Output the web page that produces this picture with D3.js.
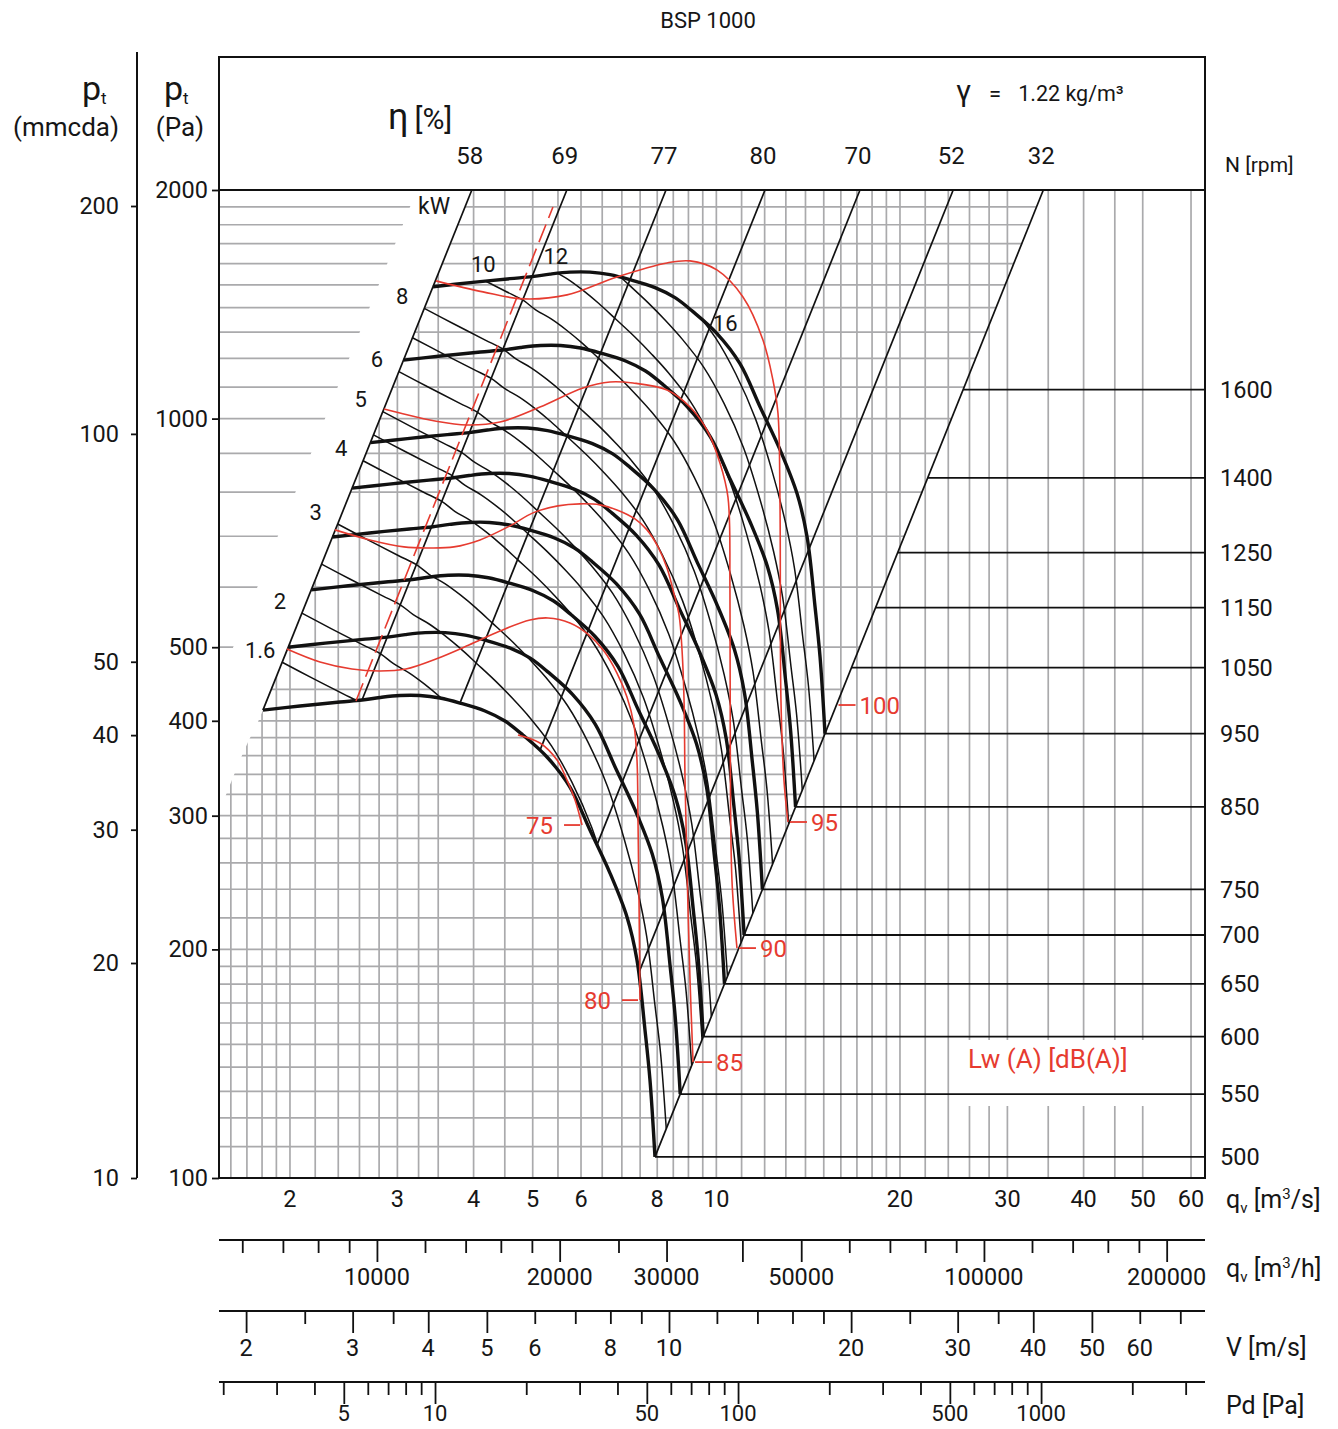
<!DOCTYPE html>
<html><head><meta charset="utf-8">
<script src="https://cdn.jsdelivr.net/npm/d3@7/dist/d3.min.js"></script>
<style>
html,body{margin:0;padding:0;background:#fff;}
svg text{font-family:Roboto,"Liberation Sans",Arial,sans-serif;fill:#161616;}
</style></head>
<body>
<svg id="chart" width="1338" height="1429" xmlns="http://www.w3.org/2000/svg"></svg>
<script>
// ---------------- DATA ----------------
const title = "BSP 1000";
const curveRpms = [500, 550, 600, 650, 700, 750, 850, 950];
const lineRpms = [500, 550, 600, 650, 700, 750, 850, 950, 1050, 1150, 1250, 1400, 1600];
// 500 rpm fan curve: flow (m3/s), total pressure (Pa), shaft power (kW)
const baseQ = [1.806, 2.077, 2.415, 2.625, 2.809, 3.029, 3.267, 3.524, 3.799, 4.176, 4.503, 4.818, 5.277, 5.754, 6.206, 6.693, 7.137, 7.412, 7.639, 7.784, 7.932];
const baseP = [413.2, 418.3, 423.4, 426.0, 429.3, 431.9, 431.9, 428.6, 422.1, 412.0, 399.7, 383.1, 358.4, 327.2, 287.2, 252.1, 220.7, 193.6, 156.6, 134.6, 106.6];
const baseKW = [1.287, 1.406, 1.542, 1.621, 1.715, 1.804, 1.899, 1.993, 2.083, 2.192, 2.267, 2.310, 2.376, 2.445, 2.46, 2.56, 2.66, 2.69, 2.68, 2.66, 2.64];
// efficiency (system) lines: label, point on the 500 rpm curve
const effLabels = [58, 69, 77, 80, 70, 52, 32];
const effQ = [1.806, 2.625, 3.799, 5.14, 6.37, 7.47, 7.932];
const effP = [413.2, 426.0, 422.1, 366.0, 274.4, 186.7, 106.6];
// shaft power lines (kW)
const kwLevels = [1.6, 2, 2.5, 3, 4, 4.5, 5, 6, 7, 8, 10, 12, 14, 16];
const kwLabelled = [1.6, 2, 3, 4, 5, 6, 8, 10, 12, 16];
// sound power Lw(A) curves
const lwLevels = [75, 80, 85, 90, 95, 100];
const lw75Q = [4.729, 5.139, 5.481, 5.691, 5.866, 6.023];
const lw75P = [383.1, 373.9, 355.1, 334.2, 314.6, 291.6];
const lw80Q = [1.977, 2.240, 2.527, 2.809, 3.098, 3.470, 3.930, 4.419, 4.948, 5.297, 5.754, 6.159, 6.543, 6.872, 7.137, 7.328, 7.412, 7.440, 7.468, 7.497];
const lw80P = [497.2, 478.0, 468.0, 465.2, 468.0, 482.4, 503.3, 525.2, 543.0, 546.4, 538.2, 520.3, 494.2, 462.3, 429.9, 394.9, 355.1, 296.1, 232.3, 171.5];
const lw85Q = [2.370, 2.704, 3.075, 3.367, 3.714, 4.098, 4.589, 5.004, 5.499, 5.977, 6.445, 6.872, 7.356, 7.697, 8.024, 8.301, 8.491, 8.686, 8.785, 8.852, 8.885, 8.953, 9.054, 9.158];
const lw85P = [713.6, 692.2, 677.7, 675.6, 677.7, 692.2, 722.3, 751.4, 767.5, 772.2, 769.8, 758.2, 737.8, 713.6, 677.7, 635.6, 594.8, 551.4, 495.7, 426.0, 334.2, 254.4, 182.3, 142.1];
const lw90Q = [2.852, 3.029, 3.457, 3.901, 4.419, 5.139, 6.046, 6.693, 7.301, 8.301, 9.054, 9.652, 10.137, 10.448, 10.527, 10.540, 10.607, 10.810];
const lw90P = [1029.5, 1017.1, 992.7, 980.7, 989.7, 1035.8, 1097.3, 1117.4, 1114.0, 1090.7, 1035.8, 966.0, 874.2, 788.1, 594.8, 366.1, 246.8, 200.8];
const lw95Q = [3.470, 4.145, 4.818, 5.691, 6.872, 8.301, 9.054, 10.02, 11.057, 11.923, 12.381, 12.618, 12.714, 12.762, 12.907, 13.104];
const lw95P = [1518.2, 1468.4, 1437.6, 1455.1, 1536.7, 1603.3, 1613.1, 1569.6, 1446.0, 1269.4, 1124.2, 1017.1, 781.0, 426.0, 334.2, 294.3];
const lw100Q = [15.74];
const lw100P = [419.6];
// dashed red limit line
const stallQ = [2.566, 5.397];
const stallP = [424.8, 1899.4];
// grid values
const gridQ = [1.6,1.7,1.8,1.9,2,2.2,2.4,2.6,2.8,3,3.25,3.5,4,4.5,5,5.5,6,6.5,7,7.5,8,8.5,9,9.5,10,11,12,13,14,15,16,17,18,19,20,22,24,26,28,30,35,40,45,50,60];
const gridP = [110,120,130,140,150,160,170,180,190,200,220,240,260,280,300,320,340,360,380,400,440,500,600,700,800,900,1000,1100,1200,1300,1400,1500,1600,1700,1800,1900];
// axis ticks
const paTicks = [100, 200, 300, 400, 500, 1000, 2000];
const mmTicks = [10, 20, 30, 40, 50, 100, 200];
const qsLabels = [2, 3, 4, 5, 6, 8, 10, 20, 30, 40, 50, 60];
const qhMinor = [6000,7000,8000,9000,12000,14000,16000,18000,25000,60000,70000,80000,90000,120000,140000,160000,180000];
const qhMajor = [10000,20000,30000,40000,50000,100000,200000];
const qhLabels = [10000,20000,30000,50000,100000,200000];
const vMinor = [2.5,3.5,6,7,8,9,12,14,16,18,25,35,60,70];
const vMajor = [2,3,4,5,10,20,30,40,50];
const vLabels = [2,3,4,5,6,8,10,20,30,40,50,60];
const pdMinor = [2,3,4,6,7,8,9,20,30,40,60,70,80,90,200,300,400,600,700,800,900,2000,3000];
const pdMajor = [5,10,50,100,500,1000];
const lwSeries = [[lw75Q,lw75P],[lw80Q,lw80P],[lw85Q,lw85P],[lw90Q,lw90P],[lw95Q,lw95P],[lw100Q,lw100P]];

// ---------------- SCALES ----------------
const svg = d3.select("#chart");
const X0 = 219, X1 = 1205, Y0 = 190, Y1 = 1178, YT = 57;
const x = d3.scaleLog().domain([1.53, 63.25]).range([X0, X1]);
const y = d3.scaleLog().domain([100, 2000]).range([Y1, Y0]);
const yMm = d3.scaleLog().domain([10, 20, 200]).range([1178, 963, 206]);
const xQh = d3.scaleLog().domain([5493, 231300]).range([X0, X1]);
const xV = d3.scaleLog().domain([1.804, 76.9]).range([X0, X1]);
const xPd = d3.scaleLog().domain([1.937, 3475]).range([X0, X1]);

const RED = "#e63b30", GRID = "#aaaaac", BLK = "#111";
const FS = 23.5;
const line = d3.line().curve(d3.curveCatmullRom.alpha(0.5));
const lineStraight = d3.line();
const kMax = 950 / 500;
const fanPts = k => baseQ.map((q, i) => [x(q * k), y(baseP[i] * k * k)]);
const p500 = fanPts(1), p950 = fanPts(kMax);
const leftTop = [x(effQ[0] * Math.sqrt(2000 / effP[0])), Y0];
const rightTop = [x(effQ[6] * Math.sqrt(2000 / effP[6])), Y0];
const leftStart = p500[0], rightEnd = p500[p500.length - 1];
const stairOff = [[-5,12],[-14,30],[-23,50],[-31,70],[-37,85],[-44,102]];
const stair = stairOff.map(o => [leftStart[0] + o[0], leftStart[1] + o[1]]);

// ---------------- CLIP PATHS ----------------
const defs = svg.append("defs");
const polyStr = pts => "M" + pts.map(p => p.join(",")).join("L") + "Z";
const vPoly = [leftTop, [X1, Y0], [X1, Y1], [X0, Y1], ...stair.slice().reverse(), leftStart];
const hPoly = [leftTop, rightTop, rightEnd, [rightEnd[0], Y1], [X0, Y1], ...stair.slice().reverse(), leftStart];
const gap = 55;
const slope = (leftTop[1] - leftStart[1]) / (leftTop[0] - leftStart[0]);
const yTri = leftStart[1] + (X0 - (leftStart[0] - gap)) * slope;
const triPoly = [[X0, Y0], [leftTop[0] - gap, Y0], [X0, yTri]];
defs.append("clipPath").attr("id", "clipV").append("path").attr("d", polyStr(vPoly));
const ch = defs.append("clipPath").attr("id", "clipH");
ch.append("path").attr("d", polyStr(hPoly));
ch.append("path").attr("d", polyStr(triPoly));
const bandD = line(p950) + "L" + rightEnd.join(",") + line(p500.slice().reverse()).replace(/^M/, "L") + "Z";
defs.append("clipPath").attr("id", "clipBand").append("path").attr("d", bandD);

// ---------------- GRID ----------------
const g = svg.append("g");
g.append("g").attr("clip-path", "url(#clipV)").selectAll("line").data(gridQ).join("line")
  .attr("x1", d => x(d)).attr("x2", d => x(d)).attr("y1", Y0).attr("y2", Y1)
  .attr("stroke", GRID).attr("stroke-width", 1.7);
g.append("g").attr("clip-path", "url(#clipH)").selectAll("line").data(gridP).join("line")
  .attr("x1", X0).attr("x2", X1).attr("y1", d => y(d)).attr("y2", d => y(d))
  .attr("stroke", GRID).attr("stroke-width", 1.7);
// white box behind Lw label
g.append("rect").attr("x", 956).attr("y", 1040).attr("width", 192).attr("height", 66).attr("fill", "#fff");

// ---------------- EFFICIENCY LINES ----------------
const gE = svg.append("g");
effLabels.forEach((lab, i) => {
  const qTop = effQ[i] * Math.sqrt(2000 / effP[i]);
  gE.append("path").attr("d", lineStraight([[x(effQ[i]), y(effP[i])], [x(qTop), Y0]]))
    .attr("stroke", BLK).attr("stroke-width", 1.7).attr("fill", "none");
  svg.append("text").attr("x", x(qTop) - 2).attr("y", 164).attr("text-anchor", "middle")
    .attr("font-size", 24).text(lab);
});

// ---------------- POWER LINES ----------------
const gK = svg.append("g").attr("clip-path", "url(#clipBand)");
kwLevels.forEach(P => {
  const pts = baseQ.map((q, i) => { const k = Math.cbrt(P / baseKW[i]); return [x(q * k), y(baseP[i] * k * k)]; });
  gK.append("path").attr("d", line(pts)).attr("fill", "none").attr("stroke", BLK).attr("stroke-width", 1.5);
});
kwLabelled.forEach(P => {
  const k0 = Math.cbrt(P / baseKW[0]);
  let px, py;
  if (k0 <= kMax) { px = x(baseQ[0] * k0) - 22; py = y(baseP[0] * k0 * k0) - 12; }
  else {
    const target = P / Math.pow(kMax, 3);
    const i = baseKW.findIndex(v => v >= target);
    const t = (target - baseKW[i - 1]) / (baseKW[i] - baseKW[i - 1]);
    const q = Math.exp(Math.log(baseQ[i - 1]) * (1 - t) + Math.log(baseQ[i]) * t) * kMax;
    const p = Math.exp(Math.log(baseP[i - 1]) * (1 - t) + Math.log(baseP[i]) * t) * kMax * kMax;
    if (P >= 15) { px = x(q) + 24; py = y(p) + 4; } else { px = x(q) - 2; py = y(p) - 17; }
  }
  svg.append("text").attr("x", px).attr("y", py).attr("dy", "0.35em").attr("text-anchor", "middle")
    .attr("font-size", 22).text(P);
});
svg.append("text").attr("x", 418).attr("y", 214).attr("font-size", 23).text("kW");

// ---------------- FAN CURVES ----------------
const gF = svg.append("g");
curveRpms.forEach(N => {
  gF.append("path").attr("d", line(fanPts(N / 500))).attr("fill", "none")
    .attr("stroke", BLK).attr("stroke-width", 3.4).attr("stroke-linejoin", "round");
});
// rpm lines
const pEnd = baseP[baseP.length - 1], qEnd = baseQ[baseQ.length - 1];
lineRpms.forEach(N => {
  const k = N / 500;
  const yy = y(pEnd * k * k);
  svg.append("line").attr("x1", x(qEnd * k)).attr("x2", X1).attr("y1", yy).attr("y2", yy)
    .attr("stroke", BLK).attr("stroke-width", 1.8);
  svg.append("text").attr("x", 1220).attr("y", yy).attr("dy", "0.35em").attr("font-size", FS).text(N);
});

// ---------------- NOISE CURVES ----------------
const gR = svg.append("g");
lwSeries.forEach((s, j) => {
  const pts = s[0].map((q, i) => [x(q), y(s[1][i])]);
  if (pts.length > 1) gR.append("path").attr("d", line(pts)).attr("fill", "none").attr("stroke", RED).attr("stroke-width", 1.6);
  const a = pts[pts.length - 1];
  const left = j < 2;
  gR.append("line").attr("x1", left ? a[0] - 2 : a[0] + 2).attr("x2", left ? a[0] - 18 : a[0] + 19)
    .attr("y1", a[1]).attr("y2", a[1]).attr("stroke", RED).attr("stroke-width", 1.8);
  gR.append("text").attr("x", left ? a[0] - 29 : a[0] + 23).attr("y", a[1]).attr("dy", "0.36em")
    .attr("text-anchor", left ? "end" : "start").attr("font-size", 24).style("fill", RED).text(lwLevels[j]);
});
gR.append("path").attr("d", lineStraight(stallQ.map((q, i) => [x(q), y(stallP[i])])))
  .attr("stroke", RED).attr("stroke-width", 1.6).attr("stroke-dasharray", "19,7").attr("fill", "none");
svg.append("text").attr("x", 968).attr("y", 1068).attr("font-size", 26).style("fill", RED).text("Lw (A) [dB(A)]");

// ---------------- FRAME & AXES ----------------
const fr = svg.append("g").attr("stroke", BLK).attr("fill", "none");
fr.append("rect").attr("x", X0).attr("y", YT).attr("width", X1 - X0).attr("height", Y1 - YT).attr("stroke-width", 2);
fr.append("line").attr("x1", X0).attr("x2", X1).attr("y1", Y0).attr("y2", Y0).attr("stroke-width", 2);
fr.append("line").attr("x1", 137).attr("x2", 137).attr("y1", 52).attr("y2", Y1).attr("stroke-width", 2);

const styleAxis = (sel, fs) => {
  sel.select(".domain").remove();
  sel.selectAll(".tick line").attr("stroke", BLK).attr("stroke-width", 1.8);
  sel.selectAll(".tick text").attr("font-size", fs).attr("fill", "#161616")
    .attr("font-family", "Roboto, 'Liberation Sans', Arial, sans-serif");
};
// Pa axis
svg.append("g").attr("transform", `translate(${X0},0)`)
  .call(d3.axisLeft(y).tickValues(paTicks).tickSize(7).tickPadding(4).tickFormat(d3.format("d")))
  .call(s => styleAxis(s, FS));
// mmcda axis
svg.append("g").attr("transform", "translate(137,0)")
  .call(d3.axisLeft(yMm).tickValues(mmTicks).tickSize(6).tickPadding(12).tickFormat(d3.format("d")))
  .call(s => styleAxis(s, FS));
// qv m3/s labels
svg.append("g").selectAll("text").data(qsLabels).join("text")
  .attr("x", d => x(d)).attr("y", 1207).attr("text-anchor", "middle").attr("font-size", FS).text(d => d);

function bottomAxis(scale, yLine, minor, major, labels, labelY, fs) {
  const gA = svg.append("g");
  gA.append("line").attr("x1", X0).attr("x2", X1).attr("y1", yLine).attr("y2", yLine).attr("stroke", BLK).attr("stroke-width", 2);
  gA.append("g").attr("transform", `translate(0,${yLine})`)
    .call(d3.axisBottom(scale).tickValues(minor).tickSize(13).tickSizeOuter(0).tickFormat(""))
    .call(s => styleAxis(s, fs));
  gA.append("g").attr("transform", `translate(0,${yLine})`)
    .call(d3.axisBottom(scale).tickValues(major).tickSize(22).tickSizeOuter(0).tickFormat(""))
    .call(s => styleAxis(s, fs));
  gA.append("g").selectAll("text").data(labels).join("text")
    .attr("x", d => scale(d)).attr("y", labelY).attr("text-anchor", "middle").attr("font-size", fs).text(d => d);
}
bottomAxis(xQh, 1240, qhMinor, qhMajor, qhLabels, 1285, FS);
bottomAxis(xV, 1311, vMinor, vMajor, vLabels, 1356, FS);
bottomAxis(xPd, 1382, pdMinor, pdMajor, pdMajor, 1421, 22);

// ---------------- TEXTS ----------------
svg.append("text").attr("x", 708).attr("y", 28).attr("text-anchor", "middle").attr("font-size", 22).text(title);
const pt = (xx) => {
  const t = svg.append("text").attr("x", xx).attr("y", 100).attr("font-size", 34);
  t.append("tspan").text("p");
  t.append("tspan").attr("font-size", 17).attr("dy", 4).text("t");
};
pt(82); pt(164);
svg.append("text").attr("x", 66).attr("y", 136).attr("text-anchor", "middle").attr("font-size", 26).text("(mmcda)");
svg.append("text").attr("x", 180).attr("y", 136).attr("text-anchor", "middle").attr("font-size", 26).text("(Pa)");
const eta = svg.append("text").attr("x", 388).attr("y", 129);
eta.append("tspan").attr("font-size", 36).text("η");
eta.append("tspan").attr("font-size", 30).attr("dx", 6).text("[%]");
const gam = svg.append("text").attr("x", 956).attr("y", 101);
gam.append("tspan").attr("font-size", 30).text("γ");
gam.append("tspan").attr("font-size", 22).attr("dx", 18).text("=");
gam.append("tspan").attr("font-size", 21.5).attr("dx", 17).text("1.22 kg/m³");
svg.append("text").attr("x", 1225).attr("y", 172).attr("font-size", 21).text("N [rpm]");

function unitLabel(yy, parts) {
  const t = svg.append("text").attr("x", 1226).attr("y", yy).attr("font-size", 25);
  parts.forEach(p => {
    const s = t.append("tspan").text(p[0]);
    if (p[1] === "sub") s.attr("font-size", 15).attr("dy", 5);
    else if (p[1] === "sup") s.attr("font-size", 15).attr("dy", -9);
    else if (p[1] === "back") s.attr("dy", p[2]);
  });
}
unitLabel(1208, [["q"], ["v", "sub"], [" [m", "back", -5], ["3", "sup"], ["/s]", "back", 9]]);
unitLabel(1277, [["q"], ["v", "sub"], [" [m", "back", -5], ["3", "sup"], ["/h]", "back", 9]]);
svg.append("text").attr("x", 1226).attr("y", 1356).attr("font-size", 25).text("V [m/s]");
svg.append("text").attr("x", 1226).attr("y", 1414).attr("font-size", 25).text("Pd [Pa]");
</script>
</body></html>
